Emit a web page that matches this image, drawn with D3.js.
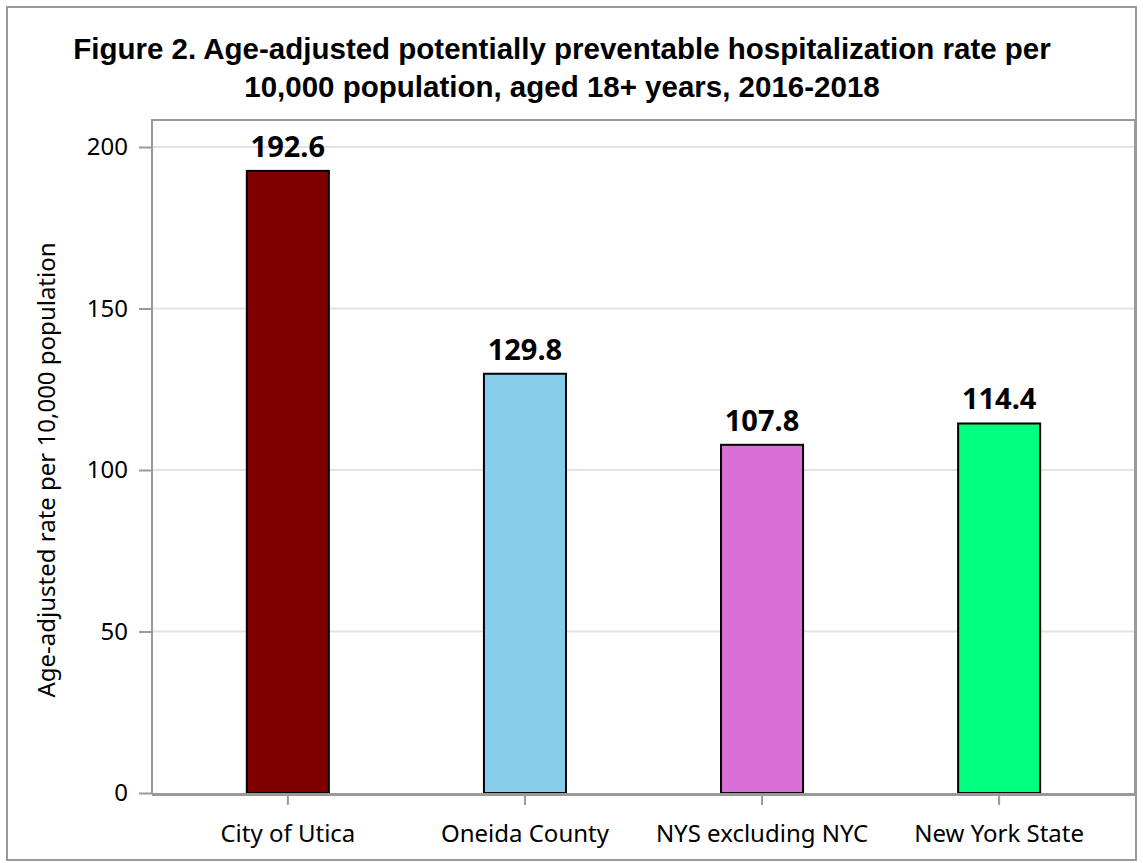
<!DOCTYPE html>
<html>
<head>
<meta charset="utf-8">
<script src="https://cdn.jsdelivr.net/npm/d3@7"></script>
<style>
  body { margin: 0; background: #fff; }
</style>
</head>
<body>
<div id="chart"></div>
<script>
// data
const areas = ["City of Utica", "Oneida County", "NYS excluding NYC", "New York State"];
const rates = [192.6, 129.8, 107.8, 114.4];
const barColors = ["#800000", "#87ceeb", "#da70d6", "#00ff7f"];
const yTicks = [0, 50, 100, 150, 200];

const W = 1143, H = 863;
const margin = { top: 120, right: 8, bottom: 70, left: 152 };
const plotBottom = 793, plotRight = 1135;

const svg = d3.select("#chart")
  .append("svg")
    .attr("width", W)
    .attr("height", H)

// outer frame
svg.append("rect")
  .attr("x", 7).attr("y", 7)
  .attr("width", W - 14).attr("height", H - 10)
  .style("fill", "none")
  .style("stroke", "#999")
  .style("stroke-width", 2)

// title
const title = svg.append("text")
  .attr("text-anchor", "middle")
  .style("font-family", "'Liberation Sans', Arial, sans-serif")
  .style("font-weight", "bold")
  .style("font-size", "29.5px")
title.append("tspan").attr("x", 562).attr("y", 59)
  .text("Figure 2. Age-adjusted potentially preventable hospitalization rate per")
title.append("tspan").attr("x", 562).attr("y", 97)
  .text("10,000 population, aged 18+ years, 2016-2018")

const x = d3.scaleBand()
  .domain(areas)
  .range([margin.left, plotRight])
  .paddingInner(0.654)
  .paddingOuter(0.40)

const y = d3.scaleLinear()
  .domain([0, 200])
  .range([plotBottom, 147])

// gridlines
svg.append("g")
  .selectAll("line")
  .data(yTicks.filter(d => d > 0))
  .enter()
  .append("line")
    .attr("x1", margin.left).attr("x2", plotRight)
    .attr("y1", d => y(d)).attr("y2", d => y(d))
    .style("stroke", "#e3e3e3")
    .style("stroke-width", 2)

// plot frame (top, left, right)
svg.append("path")
  .attr("d", `M${margin.left},${plotBottom} V${margin.top} H${plotRight} V${plotBottom}`)
  .style("fill", "none")
  .style("stroke", "#999")
  .style("stroke-width", 2)

// bars
svg.append("g")
  .selectAll("rect")
  .data(rates)
  .enter()
  .append("rect")
    .attr("x", (d, i) => x(areas[i]))
    .attr("y", d => y(d))
    .attr("width", x.bandwidth())
    .attr("height", d => plotBottom - y(d))
    .style("fill", (d, i) => barColors[i])
    .style("stroke", "#000")
    .style("stroke-width", 2)

// value labels
svg.append("g")
  .selectAll("text")
  .data(rates)
  .enter()
  .append("text")
    .attr("x", (d, i) => x(areas[i]) + x.bandwidth() / 2)
    .attr("y", d => y(d) - 14)
    .attr("text-anchor", "middle")
    .style("font-family", "'Noto Sans', sans-serif")
    .style("font-weight", "bold")
    .style("font-size", "29px")
    .text(d => d.toFixed(1))

// y axis
const yAxis = svg.append("g")
  .attr("transform", `translate(${margin.left},0)`)
  .call(d3.axisLeft(y).tickValues(yTicks).tickSize(13).tickPadding(11))
yAxis.select(".domain").remove()
yAxis.selectAll("line").style("stroke", "#999").style("stroke-width", 2)
yAxis.selectAll("text")
  .style("font-family", "'Noto Sans', sans-serif")
  .style("font-size", "24px")
  .style("fill", "#000")

// x axis
const xAxis = svg.append("g")
  .attr("transform", `translate(0,${plotBottom})`)
  .call(d3.axisBottom(x).tickSize(12).tickPadding(20))
xAxis.select(".domain")
  .attr("d", `M${margin.left},1.5H${plotRight}`)
  .style("stroke", "#999")
  .style("stroke-width", 3)
xAxis.selectAll("line").style("stroke", "#999").style("stroke-width", 2)
xAxis.selectAll("text")
  .style("font-family", "'Noto Sans', sans-serif")
  .style("font-size", "24px")
  .style("fill", "#000")

// y axis title
svg.append("text")
  .attr("transform", "translate(55,470) rotate(-90)")
  .attr("text-anchor", "middle")
  .style("font-family", "'Noto Sans', sans-serif")
  .style("font-size", "24px")
  .text("Age-adjusted rate per 10,000 population")
</script>
</body>
</html>
